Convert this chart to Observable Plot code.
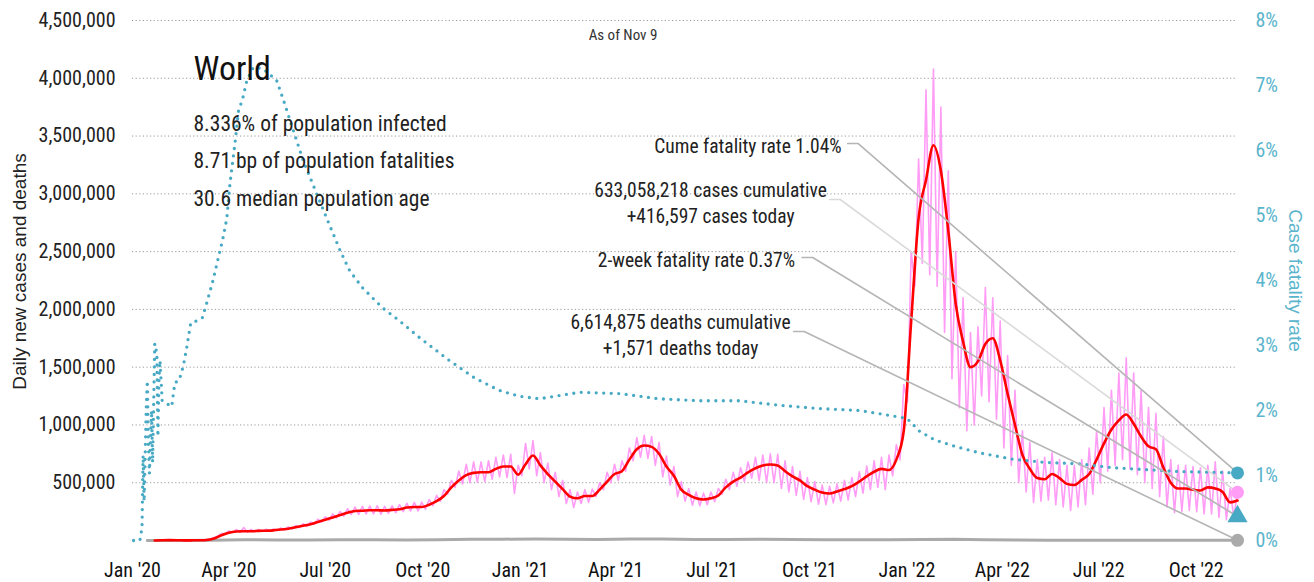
<!DOCTYPE html>
<html><head><meta charset="utf-8">
<script src="https://cdn.jsdelivr.net/npm/d3@7"></script>
<script src="https://cdn.jsdelivr.net/npm/@observablehq/plot@0.6"></script>
<style>
html,body{margin:0;padding:0;background:#fff;}
#chart svg{display:block;}
</style></head><body><div id="chart"></div>
<script>
// ---------------- DATA ----------------
// weekly series, first week = 2020-01-22, one value per week (thousands)
const weekStart = "2020-01-22";
const avgCases = [
 0,2,3,2.5,1,1.5,2.5,5,18,45,
 68,78,80,80,83,85,88,95,102,115,
 128,140,160,180,200,220,240,255,258,262,
 262,260,265,270,285,290,290,310,340,385,
 460,520,565,585,590,590,620,640,640,570,
 660,735,650,575,510,445,380,365,385,385,
 440,510,575,600,700,790,822,810,750,640,
 560,440,395,365,355,365,390,460,510,545,
 590,625,650,658,650,600,555,520,470,440,
 415,407,425,445,470,510,555,595,620,610,
 700,950,1900,2790,3120,3420,3200,2680,2050,1720,
 1500,1550,1700,1750,1560,1270,1000,740,620,540,
 530,575,540,490,480,525,575,700,840,960,
 1040,1090,1010,900,815,790,632,500,450,450,
 440,433,460,450,420,330,346];
const dailyHigh = [
 1,3,4,4,2,2,3,8,25,60,
 82,95,112,96,95,98,100,108,118,130,
 145,160,185,205,230,250,275,290,295,298,
 300,295,300,310,322,330,332,355,390,440,
 520,600,660,680,680,690,720,740,745,650,
 840,865,760,670,590,520,440,420,440,445,
 500,590,660,690,800,890,910,900,850,730,
 640,510,450,420,410,420,450,530,590,630,
 680,720,740,750,745,690,640,600,545,510,
 480,470,490,520,545,595,645,690,720,740,
 830,1350,2500,3300,3900,4080,3750,3200,2500,2100,
 1800,1850,2190,2100,1900,1600,1300,950,850,700,
 720,760,700,650,650,700,800,950,1150,1300,
 1450,1580,1450,1300,1150,1100,900,700,650,650,
 640,630,650,680,600,450,417];
const dailyLow = [
 0,1,2,1,1,1,2,4,14,40,
 60,70,72,72,75,78,80,85,90,100,
 112,122,140,160,175,195,210,225,225,230,
 230,228,235,240,250,255,255,270,300,340,
 400,460,490,500,505,510,530,550,545,407,
 560,620,560,500,440,380,320,285,320,330,
 380,440,500,520,600,690,720,710,650,550,
 480,380,340,305,300,310,335,400,440,470,
 510,540,520,500,500,450,420,390,355,335,
 315,310,325,340,350,380,410,440,460,440,
 560,700,1200,2200,2400,2300,2200,1800,1400,1150,
 950,1000,1250,1200,1050,800,650,500,420,330,
 340,350,310,290,260,290,310,400,500,600,
 650,700,620,570,500,450,380,290,240,250,
 260,250,230,230,200,180,200];

// daily deaths (thousands)
const deathDates = [
 "2020-01-15","2020-02-15","2020-03-15","2020-04-15","2020-05-15","2020-06-15",
 "2020-07-15","2020-08-15","2020-09-15","2020-10-15","2020-11-15","2020-12-15",
 "2021-01-15","2021-02-15","2021-03-15","2021-04-15","2021-05-15","2021-06-15",
 "2021-07-15","2021-08-15","2021-09-15","2021-10-15","2021-11-15","2021-12-15",
 "2022-01-15","2022-02-15","2022-03-15","2022-04-15","2022-05-15","2022-06-15",
 "2022-07-15","2022-08-15","2022-09-15","2022-10-15","2022-11-09"];
const dailyDeaths = [
 0,0.1,1.5,6.5,4.5,4.6,5.5,5.9,5.4,6.2,10,11.5,
 13.5,10.5,9,12.5,12,8.5,8.5,10,9,7,7,6.8,
 8.5,10.5,6.5,3.5,2,1.5,2,2.2,1.6,1.4,1.571];

// cumulative case fatality rate (%)
const cfrDates = [
 "2020-01-02","2020-01-08","2020-01-10","2020-01-11","2020-01-12","2020-01-13","2020-01-14","2020-01-15",
 "2020-01-16","2020-01-17","2020-01-19","2020-01-20","2020-01-22","2020-01-24","2020-01-25","2020-01-26",
 "2020-01-27","2020-01-29","2020-02-03","2020-02-07","2020-02-10","2020-02-14","2020-02-18","2020-02-21",
 "2020-02-25","2020-03-02","2020-03-07","2020-03-11","2020-03-17","2020-03-22","2020-03-26","2020-03-30",
 "2020-04-02","2020-04-07","2020-04-10","2020-04-14","2020-04-18","2020-04-24","2020-05-03","2020-05-16",
 "2020-05-22","2020-06-01","2020-06-10","2020-06-19","2020-07-02","2020-07-15","2020-07-24","2020-08-05",
 "2020-08-24","2020-09-09","2020-09-28","2020-10-26","2020-11-19","2020-12-12","2020-12-31","2021-01-19",
 "2021-02-26","2021-04-05","2021-05-12","2021-06-19","2021-07-27","2021-09-03","2021-10-10","2021-11-17",
 "2021-12-06","2022-01-01","2022-01-13","2022-01-27","2022-02-15","2022-03-10","2022-04-11","2022-05-13",
 "2022-06-13","2022-07-14","2022-08-15","2022-09-15","2022-10-16","2022-11-09"];
const cfrPct = [
 0,0,0.2,1.31,0.6,1.32,2.05,2.46,
 1.5,1.03,2.0,1.2,3.03,2.88,1.6,2.5,
 2.77,2.15,2.1,2.06,2.43,2.46,2.69,2.95,
 3.35,3.38,3.43,3.65,4.0,4.35,4.62,4.95,
 5.49,6.15,6.6,6.8,7.08,7.28,7.26,7.08,
 6.8,6.3,5.85,5.49,4.97,4.46,4.15,3.89,
 3.58,3.38,3.12,2.77,2.5,2.31,2.22,2.18,
 2.28,2.26,2.18,2.15,2.15,2.08,2.03,2.0,
 1.95,1.88,1.68,1.55,1.45,1.35,1.25,1.2,
 1.18,1.12,1.09,1.06,1.05,1.04];

// latest figures
const latestDate = "2022-11-09";
const casesToday = 416597, deathsToday = 1571;
const cumCases = 633058218, cumDeaths = 6614875;
const cumeRate = 1.04, twoWeekRate = 0.37;

// header text
const place = "World";
const facts = ["8.336% of population infected", "8.71 bp of population fatalities", "30.6 median population age"];
const asOf = "As of Nov 9";

// axis ticks
const caseTicks = [500000,1000000,1500000,2000000,2500000,3000000,3500000,4000000,4500000];
const rateTicks = [0,1,2,3,4,5,6,7,8];
const xTicks = ["2020-01-01","2020-04-01","2020-07-01","2020-10-01","2021-01-01","2021-04-01",
 "2021-07-01","2021-10-01","2022-01-01","2022-04-01","2022-07-01","2022-10-01"];

// ---------------- FONT PICK (narrow face if one exists) ----------------
function textWidth(family, stretch) {
  const s = d3.select("body").append("svg").attr("width", 10).attr("height", 10).style("position", "absolute");
  const t = s.append("text").style("font-family", family).style("font-stretch", stretch)
    .style("font-size", "100px").text("8.336% of population infected");
  const w = t.node().getComputedTextLength();
  s.remove();
  return w;
}
let NARROW = '"DejaVu Sans Condensed",sans-serif', STRETCH = "100%";
{
  const mono = textWidth("monospace", "100%");
  const cands = [["Liberation Sans Narrow", "100%"], ["Roboto", "75%"], ["Noto Sans", "75%"], ["Open Sans", "75%"]];
  for (const [f, st] of cands) {
    const fam = `"${f}", monospace`;
    const wNorm = textWidth(fam, "100%");
    if (Math.abs(wNorm - mono) < 0.5) continue;
    if (st !== "100%" && textWidth(fam, st) > 0.93 * wNorm) continue;
    NARROW = `"${f}",sans-serif`; STRETCH = st; break;
  }
}

// ---------------- BUILD ----------------
const REG = '"Liberation Sans",Arial,sans-serif';
const PINK = "#ff9cf5", RED = "#ff0000", TEAL = "#47a9c4", TEAL_TXT = "#5ab4cc", GREY = "#aaaaaa";
const parse = d3.utcParse("%Y-%m-%d");
const DAY = 864e5;
const RATE = 4500000 / 8; // 1% on right axis in left-axis units
const t0 = +parse(weekStart);
const end = parse(latestDate);

const weekly = avgCases.map((v, k) => ({date: new Date(t0 + 7 * k * DAY), value: v * 1000}));
const pink = [];
dailyHigh.forEach((h, k) => {
  const t = t0 + 7 * k * DAY;
  pink.push({date: new Date(t - 3.5 * DAY), value: dailyLow[k] * 1000});
  pink.push({date: new Date(t), value: h * 1000});
});
const deaths = deathDates.map((d, i) => ({date: parse(d), value: dailyDeaths[i] * 1000}));
const cfr = cfrDates.map((d, i) => ({date: parse(d), value: cfrPct[i] * RATE}));

const fmt = d3.format(",");
const leaders = [
  {from: "2021-11-06", y: 3435000, to: cumeRate * RATE, stroke: "#b5b5b5",
   text: `Cume fatality rate ${cumeRate.toFixed(2)}%`, anchor: "end", dx: -6, dy: 1},
  {from: "2021-10-20", y: 2951000, to: casesToday, stroke: "#dadada",
   text: `${fmt(cumCases)} cases cumulative\n+${fmt(casesToday)} cases today`, anchor: "middle", dx: -119, dy: 2},
  {from: "2021-09-24", y: 2449000, to: twoWeekRate * RATE, stroke: "#b5b5b5",
   text: `2-week fatality rate ${twoWeekRate.toFixed(2)}%`, anchor: "end", dx: -7, dy: 1},
  {from: "2021-09-16", y: 1809000, to: deathsToday, stroke: "#b5b5b5",
   text: `${fmt(cumDeaths)} deaths cumulative\n+${fmt(deathsToday)} deaths today`, anchor: "middle", dx: -113, dy: 2}
];
const leaderPts = leaders.flatMap((l, i) => {
  const a = parse(l.from);
  return [
    {g: i, date: a, value: l.y},
    {g: i, date: new Date(+a + 10 * DAY), value: l.y},
    {g: i, date: end, value: l.to}
  ];
});

const marks = [
  Plot.gridY(caseTicks, {stroke: "#9a9a9a", strokeOpacity: 1, strokeDasharray: "1.2,2.4", strokeWidth: 1}),
  Plot.axisY(caseTicks, {anchor: "left", tickSize: 0, tickPadding: 17, tickFormat: fmt, label: null, fontSize: 20, color: "#222"}),
  Plot.axisY(rateTicks.map(r => r * RATE), {anchor: "right", tickSize: 0, tickPadding: 18,
    tickFormat: v => Math.round(v / RATE) + "%", label: null, fontSize: 20, color: TEAL_TXT}),
  Plot.axisX(xTicks.map(parse), {tickSize: 0, tickPadding: 22, tickFormat: d3.utcFormat("%b '%y"), label: null, fontSize: 20, color: "#111"}),
  Plot.line(pink, {x: "date", y: "value", stroke: PINK, strokeWidth: 1.6}),
  Plot.line(deaths, {x: "date", y: "value", stroke: GREY, strokeWidth: 3}),
  Plot.line(weekly, {x: "date", y: "value", stroke: RED, strokeWidth: 2.6, curve: "monotone-x"}),
  Plot.line(cfr, {x: "date", y: "value", stroke: TEAL, strokeWidth: 3.3, strokeDasharray: "0,7.5", strokeLinecap: "round"}),
  Plot.line(leaderPts, {x: "date", y: "value", z: "g", stroke: d => leaders[d.g].stroke, strokeWidth: 1.6})
];
leaders.forEach(l => {
  marks.push(Plot.text([l], {x: d => parse(d.from), y: "y", text: "text", textAnchor: l.anchor,
    dx: l.dx, dy: l.dy, lineAnchor: "middle", lineHeight: 1.33, fontSize: 19.5, fill: "#222"}));
});
marks.push(
  Plot.dot([{date: end, value: cumeRate * RATE}], {x: "date", y: "value", r: 6.5, fill: TEAL}),
  Plot.dot([{date: end, value: casesToday}], {x: "date", y: "value", r: 6.5, fill: PINK}),
  Plot.dot([{date: end, value: twoWeekRate * RATE}], {x: "date", y: "value", r: 7.5, symbol: "triangle", fill: TEAL}),
  Plot.dot([{date: end, value: deathsToday}], {x: "date", y: "value", r: 6.5, fill: GREY}),
  Plot.text([place], {frameAnchor: "top-left", dx: 61, dy: 35, lineAnchor: "top", textAnchor: "start", fontSize: 34, fill: "#111"}),
  Plot.text([facts.join("\n")], {frameAnchor: "top-left", dx: 61, dy: 84, lineAnchor: "top", textAnchor: "start", fontSize: 21.5, lineHeight: 1.74, fill: "#222"}),
  Plot.text([asOf], {frameAnchor: "top", dx: -62, dy: 9, fontSize: 15, fill: "#333"}),
  Plot.text(["Daily new cases and deaths"], {frameAnchor: "left", rotate: -90, textAnchor: "middle", dx: -113, dy: -9, fontSize: 19, fontFamily: REG, fill: "#222"}),
  Plot.text(["Case fatality rate"], {frameAnchor: "right", rotate: 90, textAnchor: "middle", dx: 58, dy: 0, fontSize: 19, fontFamily: REG, fill: TEAL_TXT})
);

const chart = Plot.plot({
  width: 1314, height: 582,
  marginLeft: 132, marginRight: 77, marginTop: 20, marginBottom: 42,
  style: {fontFamily: NARROW, fontStretch: STRETCH, fontSize: "20px", background: "#fff", color: "#222", overflow: "visible"},
  x: {type: "utc", domain: [parse("2020-01-01"), end]},
  y: {domain: [0, 4500000]},
  marks
});
document.getElementById("chart").appendChild(chart);
</script>
</body></html>
